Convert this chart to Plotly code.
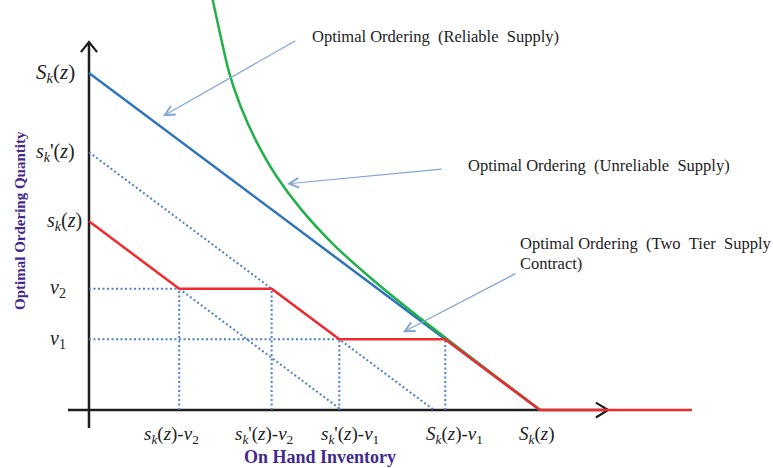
import plotly.graph_objects as go

# Policy levels (order-up-to levels and tier thresholds)
S_up = 100.0        # S_k(z)
s_prime = 76.5      # s_k'(z)
s_low = 56.0        # s_k(z)
v2 = 36.0
v1 = 21.0
x_end = 133.7       # right end of the zero-order segment

green_x = [27.3, 29.0, 31.0, 33.5, 37.0, 41.5, 47.0, 54.0, 62.0, 71.0, 80.0, 90.0, 100.0]
green_y = [122.5, 112.0, 100.5, 90.5, 80.0, 69.5, 59.6, 49.4, 39.7, 29.8, 20.4, 10.2, 0.0]

# Tick label texts
y_ticks = {
    "S": "<i>S</i><sub><i>k</i></sub>(<i>z</i>)",
    "sp": "<i>s</i><sub><i>k</i></sub>'(<i>z</i>)",
    "s": "<i>s</i><sub><i>k</i></sub>(<i>z</i>)",
    "v2": "<i>v</i><sub>2</sub>",
    "v1": "<i>v</i><sub>1</sub>",
}
x_tick_vals = [s_low - v2, s_prime - v2, s_prime - v1, S_up - v1, S_up]
x_tick_text = [
    "<i>s</i><sub><i>k</i></sub>(<i>z</i>)-<i>v</i><sub>2</sub>",
    "<i>s</i><sub><i>k</i></sub>'(<i>z</i>)-<i>v</i><sub>2</sub>",
    "<i>s</i><sub><i>k</i></sub>'(<i>z</i>)-<i>v</i><sub>1</sub>",
    "<i>S</i><sub><i>k</i></sub>(<i>z</i>)-<i>v</i><sub>1</sub>",
    "<i>S</i><sub><i>k</i></sub>(<i>z</i>)",
]
x_tick_shift = [-8, -8, 11, 9, -4]

SERIF = "Liberation Serif, Times New Roman, serif"
BLUE = "#2E74BE"
GREEN = "#22B04A"
RED = "#EE2B2E"
DOT = "#4C7FC6"
ARROW = "#7FA5D6"
AXIS = "#1E1E1E"
PURPLE = "#43298E"
INK = "#222222"

fig = go.Figure()


def line(xs, ys, color, width, dash="solid"):
    fig.add_trace(go.Scatter(x=xs, y=ys, mode="lines", hoverinfo="skip",
                             line=dict(color=color, width=width, dash=dash)))


# Axes with open arrowheads
line([-4.66, 115.1], [0, 0], AXIS, 2.5)
line([0, 0], [-5.3, 109.2], AXIS, 2.5)
line([112.4, 115.1, 112.4], [2.2, 0, -2.2], AXIS, 2.2)
line([-1.8, 0, 1.8], [106.2, 109.2, 106.2], AXIS, 2.2)

# Dotted guide lines
dot = "2px,2.5px"
line([0, s_prime], [s_prime, 0], DOT, 2, dot)
line([s_low - v2, s_low], [v2, 0], DOT, 2, dot)
line([0, s_low - v2], [v2, v2], DOT, 2, dot)
line([0, s_prime - v1], [v1, v1], DOT, 2, dot)
for xv, yv in [(s_low - v2, v2), (s_prime - v2, v2), (s_prime - v1, v1), (S_up - v1, v1)]:
    line([xv, xv], [0, yv], DOT, 2, dot)

# Reliable supply: base-stock line
line([0, S_up], [S_up, 0], BLUE, 2.5)
# Unreliable supply
fig.add_trace(go.Scatter(x=green_x, y=green_y, mode="lines", hoverinfo="skip",
                         line=dict(color=GREEN, width=2.5, shape="spline", smoothing=0.6)))
# Two-tier supply contract
line([0, s_low - v2, s_prime - v2, s_prime - v1, S_up - v1, S_up, x_end],
     [s_low, v2, v2, v1, v1, 0, 0], RED, 2.5)

ann = []
# Y-axis labels
ann.append(dict(x=-2.6, y=S_up, text=y_ticks["S"], xanchor="right", yanchor="middle",
                font=dict(family=SERIF, size=21, color=INK)))
ann.append(dict(x=-2.6, y=s_prime, text=y_ticks["sp"], xanchor="right", yanchor="middle",
                font=dict(family=SERIF, size=20, color=INK)))
ann.append(dict(x=-1.2, y=s_low, text=y_ticks["s"], xanchor="right", yanchor="middle",
                font=dict(family=SERIF, size=20, color=INK)))
ann.append(dict(x=-9.0, y=v2, text=y_ticks["v2"], xanchor="left", yanchor="middle",
                font=dict(family=SERIF, size=20, color=INK)))
ann.append(dict(x=-9.0, y=v1, text=y_ticks["v1"], xanchor="left", yanchor="middle",
                font=dict(family=SERIF, size=20, color=INK)))
# X-axis labels
for xv, txt, sh in zip(x_tick_vals, x_tick_text, x_tick_shift):
    ann.append(dict(x=xv, y=-7.5, text=txt, xanchor="center", yanchor="middle", xshift=sh,
                    font=dict(family=SERIF, size=19, color=INK)))

# Axis titles
ann.append(dict(x=-15.3, y=56.4, text="<b>Optimal Ordering Quantity</b>", textangle=-90,
                xanchor="center", yanchor="middle",
                font=dict(family=SERIF, size=15, color=PURPLE)))
ann.append(dict(x=51.2, y=-14.0, text="<b>On Hand Inventory</b>",
                xanchor="center", yanchor="middle",
                font=dict(family=SERIF, size=18, color=PURPLE)))

# Callout texts
cfont = dict(family=SERIF, size=16.5, color=INK)
ann.append(dict(x=49.0, y=110.7, text="Optimal Ordering&nbsp;&nbsp;(Reliable&nbsp;&nbsp;Supply)",
                xanchor="left", yanchor="middle", font=cfont))
ann.append(dict(x=83.6, y=72.7, text="Optimal Ordering&nbsp;&nbsp;(Unreliable&nbsp;&nbsp;Supply)",
                xanchor="left", yanchor="middle", font=cfont))
ann.append(dict(x=95.1, y=49.3, text="Optimal Ordering&nbsp;&nbsp;(Two&nbsp;&nbsp;Tier&nbsp;&nbsp;Supply",
                xanchor="left", yanchor="middle", font=cfont))
ann.append(dict(x=95.1, y=43.4, text="Contract)", xanchor="left", yanchor="middle", font=cfont))

# Callout arrows (tail at the text, head at the curve)
for (tx, ty), (hx, hy) in [((46.1, 109.8), (16.4, 87.2)),
                           ((78.5, 71.5), (43.9, 67.1)),
                           ((94.9, 40.7), (69.6, 23.1))]:
    ann.append(dict(x=hx, y=hy, ax=tx, ay=ty, axref="x", ayref="y", xref="x", yref="y",
                    text="", showarrow=True, arrowhead=5, arrowsize=1.6, arrowwidth=1.2,
                    arrowcolor=ARROW))

for a in ann:
    a.setdefault("xref", "x")
    a.setdefault("yref", "y")
    a.setdefault("showarrow", False)

fig.update_layout(
    width=773, height=468,
    margin=dict(l=0, r=0, t=0, b=0),
    paper_bgcolor="white", plot_bgcolor="white",
    showlegend=False,
    xaxis=dict(range=[-19.73, 151.66], visible=False, fixedrange=True),
    yaxis=dict(range=[-17.2, 121.66], visible=False, fixedrange=True),
    annotations=ann,
)

fig.write_html("out.html")
